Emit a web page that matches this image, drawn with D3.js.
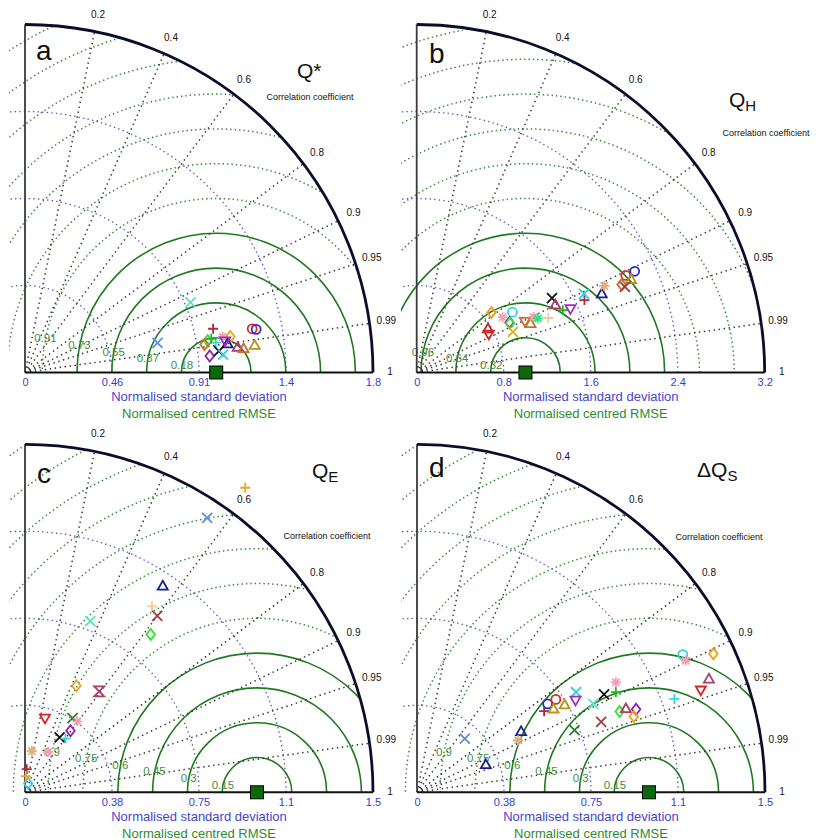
<!DOCTYPE html>
<html>
<head>
<meta charset="utf-8">
<script src="https://cdn.jsdelivr.net/npm/d3@7"></script>
<style>
  body { margin: 0; background: #fff; }
  svg { display: block; font-family: Arial, "Liberation Sans", sans-serif; }
</style>
</head>
<body>
<div id="chart"></div>
<script>
// ---- data ----
const corrTicks = [0.2, 0.4, 0.6, 0.8, 0.9, 0.95, 0.99];

const qstarTicks = ["0", "0.46", "0.91", "1.4", "1.8"];
const qhTicks = ["0", "0.8", "1.6", "2.4", "3.2"];
const qeTicks = ["0", "0.38", "0.75", "1.1", "1.5"];
const dqsTicks = ["0", "0.38", "0.75", "1.1", "1.5"];

const qstarRms = ["0.18", "0.37", "0.55", "0.73", "0.91"];
const qhRms = ["0.32", "0.64", "0.96"];
const qeRms = ["0.15", "0.3", "0.45", "0.6", "0.75", "0.9"];
const dqsRms = ["0.15", "0.3", "0.45", "0.6", "0.75", "0.9"];

const qstarModels = ["aqX","cfX","drP","rdO","blO","pkS","orD","lmD","siD","cyP","grP","nvT","puV","mvT","siT","olT","puD","bkX","cyX"];
const qstarStd  = [0.94,0.71,1.01,1.21,1.23,1.05,1.09,0.97,0.95,1.01,0.99,1.07,1.06,1.12,1.15,1.21,0.97,1.02,1.04];
const qstarCorr = [0.921,0.976,0.974,0.982,0.983,0.984,0.985,0.985,0.988,0.988,0.984,0.990,0.988,0.993,0.994,0.993,0.996,0.994,0.996];

const qhModels = ["orD","pkS","cyO","rdT","rdV","puD","lmD","gdX","siV","siT","pkS","sgS","bqP","bkX","mvT","grP","puV","drP","cyX","nvT","tnS","rdO","blO","olT","siD","brX"];
const qhStd  = [0.88,0.94,1.04,0.77,0.75,0.97,0.97,0.96,1.10,1.14,1.19,1.22,1.31,1.42,1.42,1.46,1.53,1.68,1.70,1.85,1.90,2.12,2.21,2.15,2.05,2.07];
const qhCorr = [0.780,0.841,0.846,0.851,0.884,0.880,0.884,0.921,0.905,0.918,0.903,0.913,0.924,0.876,0.898,0.920,0.924,0.918,0.905,0.920,0.908,0.907,0.907,0.917,0.919,0.925];

const qeModels = ["gdP","cfX","nvT","bqP","brX","lmD","aqX","orD","mvH","rdV","dgX","pkS","puD","bkX","cyP","tnS","pkS","drP","cyD","gdP"];
const qeStd  = [1.62,1.42,1.07,0.97,0.95,0.87,0.79,0.51,0.54,0.33,0.38,0.38,0.33,0.28,0.29,0.18,0.20,0.10,0.04,0.07];
const qeCorr = [0.586,0.553,0.555,0.564,0.600,0.623,0.356,0.434,0.592,0.261,0.539,0.593,0.594,0.533,0.602,0.163,0.498,0.076,0.34,0.05];

const dqsModels = ["cfX","nvT","nvT","tnS","drP","blO","rdO","olT","olT","cyX","puV","aqX","dgX","bkX","grP","pkS","brX","lmD","mvT","puD","orD","cyP","cyO","pkS","orD","mvT","rdV"];
const dqsStd  = [0.31,0.32,0.52,0.49,0.65,0.68,0.72,0.69,0.74,0.81,0.79,0.85,0.73,0.91,0.96,0.98,0.85,0.94,0.97,1.01,0.99,1.18,1.29,1.29,1.41,1.35,1.30];
const dqsCorr = [0.665,0.927,0.863,0.889,0.843,0.828,0.831,0.853,0.860,0.846,0.865,0.894,0.930,0.886,0.893,0.875,0.934,0.929,0.928,0.935,0.944,0.940,0.888,0.898,0.906,0.932,0.941];

// marker look for each model key: [shape, colour]
const markStyle = {
  cfX: ["x", "#5a8ee0"], aqX: ["x", "#55e3c8"], bkX: ["x", "#111"], dgX: ["x", "#2d7a2d"],
  brX: ["x", "#a33b45"], cyX: ["x", "#30cde0"], gdX: ["x", "#d8b020"],
  drP: ["+", "#b02a3a"], cyP: ["+", "#38d8d8"], grP: ["+", "#22b822"], bqP: ["+", "#f5c8a0"], gdP: ["+", "#e8a828"],
  blO: ["o", "#2a2ad0"], rdO: ["o", "#e02828"], cyO: ["o", "#28d8e8"],
  nvT: ["^", "#1c1c8c"], mvT: ["^", "#a8406a"], olT: ["^", "#b8921a"], siT: ["^", "#c8702a"], rdT: ["^", "#c02828"],
  rdV: ["v", "#e02020"], puV: ["v", "#9a30c8"], siV: ["v", "#c8702a"],
  orD: ["d", "#f0a018"], lmD: ["d", "#38e038"], puD: ["d", "#9a1aa8"], siD: ["d", "#c8702a"], cyD: ["d", "#28d0e0"],
  pkS: ["*", "#f4a0b4"], tnS: ["*", "#e0b07c"], sgS: ["*", "#30e080"],
  mvH: ["h", "#a8406a"]
};

// ---- layout ----
const W = 818, H = 840, R = 348, LABR = 365, LEFT = 16;

const panels = [
  { letter: "a", ox: 25, oy: 372.5, max: 1.82, ticks: qstarTicks, rms: qstarRms, nSolid: 4,
    models: qstarModels, std: qstarStd, corr: qstarCorr, cc: [310, 98],
    title: { x: 297, y: 78, main: "Q*", sub: "" }, letterPos: [36, 60] },
  { letter: "b", ox: 416.7, oy: 372.5, max: 3.2, ticks: qhTicks, rms: qhRms, nSolid: 4,
    models: qhModels, std: qhStd, corr: qhCorr, cc: [766, 134],
    title: { x: 729, y: 107, main: "Q", sub: "H" }, letterPos: [429, 63] },
  { letter: "c", ox: 25, oy: 792.3, max: 1.5, ticks: qeTicks, rms: qeRms, nSolid: 4,
    models: qeModels, std: qeStd, corr: qeCorr, cc: [327, 537],
    title: { x: 312, y: 478, main: "Q", sub: "E" }, letterPos: [37, 483] },
  { letter: "d", ox: 417, oy: 792.3, max: 1.5, ticks: dqsTicks, rms: dqsRms, nSolid: 4,
    models: dqsModels, std: dqsStd, corr: dqsCorr, cc: [719, 538],
    title: { x: 697, y: 477, main: "\u0394Q", sub: "S" }, letterPos: [429, 477] }
];

const svg = d3.select("#chart").append("svg")
  .attr("width", W)
  .attr("height", H);

function markerPath(shape, s) {
  const p = d3.path();
  if (shape === "x") {
    p.moveTo(-s, -s); p.lineTo(s, s); p.moveTo(-s, s); p.lineTo(s, -s);
  } else if (shape === "+") {
    p.moveTo(-s, 0); p.lineTo(s, 0); p.moveTo(0, -s); p.lineTo(0, s);
  } else if (shape === "o") {
    p.moveTo(s * 0.9, 0); p.arc(0, 0, s * 0.9, 0, 2 * Math.PI);
  } else if (shape === "^") {
    p.moveTo(0, -s); p.lineTo(s, s * 0.75); p.lineTo(-s, s * 0.75); p.closePath();
  } else if (shape === "v") {
    p.moveTo(0, s); p.lineTo(s, -s * 0.75); p.lineTo(-s, -s * 0.75); p.closePath();
  } else if (shape === "d") {
    p.moveTo(0, -s * 1.1); p.lineTo(s * 0.85, 0); p.lineTo(0, s * 1.1); p.lineTo(-s * 0.85, 0); p.closePath();
  } else if (shape === "*") {
    const t = s * 0.72;
    p.moveTo(-s, 0); p.lineTo(s, 0); p.moveTo(0, -s); p.lineTo(0, s);
    p.moveTo(-t, -t); p.lineTo(t, t); p.moveTo(-t, t); p.lineTo(t, -t);
  } else if (shape === "h") {
    p.moveTo(-s, -s); p.lineTo(s, -s); p.lineTo(-s, s); p.lineTo(s, s); p.closePath();
  }
  return p.toString();
}

const defs = svg.append("defs");

panels.forEach((P, pi) => {
  const r = d3.scaleLinear().domain([0, P.max]).range([0, R]);
  const g = svg.append("g").attr("transform", `translate(${P.ox},${P.oy})`);

  // clip: quarter disc plus a small strip left of the vertical axis
  const clipId = "clip" + pi;
  defs.append("clipPath").attr("id", clipId)
    .append("path")
    .attr("d", `M${-LEFT},0 L${-LEFT},${-Math.sqrt(R * R - LEFT * LEFT)} A${R},${R} 0 0 1 ${R},0 Z`);

  const grid = g.append("g").attr("clip-path", `url(#${clipId})`);

  // standard deviation arcs (blue dotted)
  grid.selectAll("circle.sd")
    .data([0.25, 0.5, 0.75])
    .join("circle")
    .attr("class", "sd")
    .attr("r", d => r(d * P.max))
    .attr("fill", "none")
    .attr("stroke", "#5252cc")
    .attr("stroke-width", 1.3)
    .attr("stroke-dasharray", "1.4,3.2");

  // centred RMSE arcs around the reference point
  const step = P.max / 10;
  const levels = d3.range(1, 14).map(i => i * step);
  grid.selectAll("circle.rms")
    .data(levels)
    .join("circle")
    .attr("class", "rms")
    .attr("cx", r(1))
    .attr("r", d => r(d))
    .attr("fill", "none")
    .attr("stroke", (d, i) => i < P.nSolid ? "#1f7a1f" : "#2f8a2f")
    .attr("stroke-width", (d, i) => i < P.nSolid ? 1.6 : 1.5)
    .attr("stroke-dasharray", (d, i) => i < P.nSolid ? null : "1.4,3");

  // correlation rays
  grid.selectAll("line.ray")
    .data(corrTicks)
    .join("line")
    .attr("class", "ray")
    .attr("x2", d => R * d)
    .attr("y2", d => -R * Math.sqrt(1 - d * d))
    .attr("stroke", "#333")
    .attr("stroke-width", 1.5)
    .attr("stroke-dasharray", "1.4,3.6");

  // RMSE labels
  const la = 169 * Math.PI / 180;
  g.selectAll("text.rmsl")
    .data(P.rms)
    .join("text")
    .attr("class", "rmsl")
    .attr("x", (d, i) => r(1) + r(levels[i]) * Math.cos(la))
    .attr("y", (d, i) => -r(levels[i]) * Math.sin(la))
    .attr("text-anchor", "middle")
    .attr("dominant-baseline", "middle")
    .attr("font-size", 11.5)
    .attr("fill", "#3f8f3f")
    .text(d => d);

  // axes lines
  g.append("line").attr("x1", 0).attr("y1", 0).attr("x2", 0).attr("y2", -R)
    .attr("stroke", "#3a3a3a").attr("stroke-width", 1.8);
  g.append("line").attr("x1", 0).attr("y1", 0).attr("x2", R).attr("y2", 0)
    .attr("stroke", "#111").attr("stroke-width", 2);

  // outer arc
  g.append("path")
    .attr("d", d3.arc()({ innerRadius: R, outerRadius: R, startAngle: 0, endAngle: Math.PI / 2 }))
    .attr("fill", "none")
    .attr("stroke", "#0c0c2c")
    .attr("stroke-width", 2.8);

  // correlation labels
  g.selectAll("text.cl")
    .data(corrTicks.concat([1]))
    .join("text")
    .attr("class", "cl")
    .attr("x", d => LABR * d)
    .attr("y", d => -LABR * Math.sqrt(1 - d * d))
    .attr("text-anchor", "middle")
    .attr("dominant-baseline", "middle")
    .attr("font-size", 10)
    .attr("fill", "#111")
    .text(d => d);

  svg.append("text")
    .attr("x", P.cc[0]).attr("y", P.cc[1])
    .attr("text-anchor", "middle")
    .attr("dominant-baseline", "middle")
    .attr("font-size", 9)
    .attr("fill", "#111")
    .text("Correlation coefficient");

  // x axis labels
  const ax = g.append("g")
    .call(d3.axisBottom(r)
      .tickValues([0, 0.25, 0.5, 0.75, 1].map(f => f * P.max))
      .tickFormat((d, i) => P.ticks[i])
      .tickSize(0)
      .tickPadding(6));
  ax.select(".domain").remove();
  ax.selectAll("text")
    .attr("fill", "#3a3ad0")
    .attr("font-size", 11)
    .attr("font-family", "Arial, 'Liberation Sans', sans-serif");

  g.append("text")
    .attr("x", R / 2).attr("y", 28.5)
    .attr("text-anchor", "middle")
    .attr("font-size", 13)
    .attr("fill", "#4646d0")
    .text("Normalised standard deviation");
  g.append("text")
    .attr("x", R / 2).attr("y", 45.5)
    .attr("text-anchor", "middle")
    .attr("font-size", 13)
    .attr("fill", "#2e8b2e")
    .text("Normalised centred RMSE");

  // reference point
  g.append("rect")
    .attr("x", r(1) - 6.5).attr("y", -6.5)
    .attr("width", 13).attr("height", 13)
    .attr("fill", "#0a6a0a")
    .attr("stroke", "#000")
    .attr("stroke-width", 1);

  // model markers
  const pts = P.models.map((m, i) => ({ m, s: P.std[i], c: P.corr[i] }));
  g.selectAll("path.mk")
    .data(pts)
    .join("path")
    .attr("class", "mk")
    .attr("transform", d => `translate(${r(d.s) * d.c},${-r(d.s) * Math.sqrt(1 - d.c * d.c)})`)
    .attr("d", d => markerPath(markStyle[d.m][0], 5))
    .attr("fill", "none")
    .attr("stroke", d => markStyle[d.m][1])
    .attr("stroke-width", 1.8);

  // panel letter and variable name
  svg.append("text")
    .attr("x", P.letterPos[0]).attr("y", P.letterPos[1])
    .attr("font-size", 28)
    .attr("fill", "#111")
    .text(P.letter);

  const t = svg.append("text")
    .attr("x", P.title.x).attr("y", P.title.y)
    .attr("font-size", 21)
    .attr("fill", "#111");
  t.append("tspan").text(P.title.main);
  if (P.title.sub) {
    t.append("tspan").attr("dy", 4).attr("font-size", 15).text(P.title.sub);
  }
});
</script>
</body>
</html>
